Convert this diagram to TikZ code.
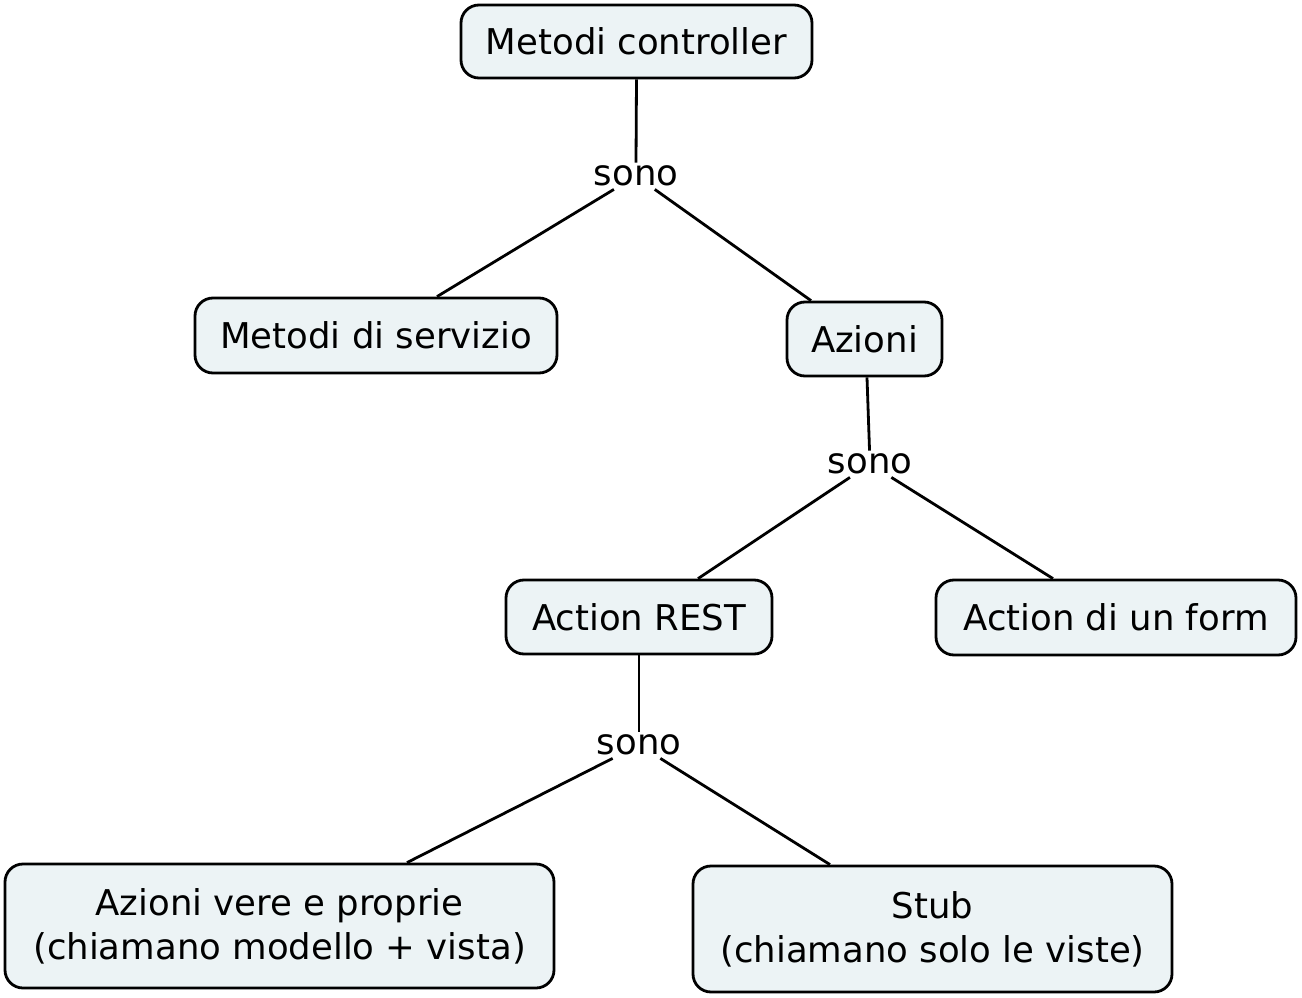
\documentclass[tikz,border=0pt]{standalone}
\usepackage{fontspec}
\setmainfont{DejaVu Sans}
\usetikzlibrary{calc}
\definecolor{boxfill}{HTML}{ECF3F5}
\tikzset{
  concept/.style={draw=black, line width=2.8pt, fill=boxfill, rounded corners=18pt,
    inner sep=0pt, align=center, font=\fontsize{35.5}{44}\selectfont},
  linklabel/.style={inner sep=3pt, font=\fontsize{35.5}{40}\selectfont},
  link/.style={line width=2.8pt, black}
}
\begin{document}
\begin{tikzpicture}[x=1pt,y=-1pt]
\useasboundingbox (0,0) rectangle (1302,998);
\node[concept, minimum width=351pt, minimum height=73pt] (mc) at (636.5,41.5) {Metodi controller};
\node[linklabel] (s1) at (636,176) {sono};
\node[concept, minimum width=362pt, minimum height=75pt] (ms) at (376,335.5) {Metodi di servizio};
\node[concept, minimum width=155pt, minimum height=74pt] (az) at (864.5,339) {Azioni};
\node[linklabel] (s2) at (870,464) {sono};
\node[concept, minimum width=266pt, minimum height=74pt] (ar) at (639,617) {Action REST};
\node[concept, minimum width=360pt, minimum height=75pt] (af) at (1116,617.5) {Action di un form};
\node[linklabel] (s3) at (639,745) {sono};
\node[concept, minimum width=549pt, minimum height=124pt] (av) at (279.5,926) {Azioni vere e proprie\\(chiamano modello + vista)};
\node[concept, minimum width=479pt, minimum height=126pt] (st) at (932.5,929) {Stub\\ (chiamano solo le viste)};

\coordinate (msT) at ($(ms.north)+(61,0)$);
\coordinate (azT) at ($(az.north)+(-53.5,0)$);
\coordinate (azB) at ($(az.south)+(2.5,0)$);
\coordinate (arT) at ($(ar.north)+(59,0)$);
\coordinate (afT) at ($(af.north)+(-63,0)$);
\coordinate (avT) at ($(av.north)+(127.5,0)$);
\coordinate (stT) at ($(st.north)+(-102.5,0)$);

\draw[link] (mc.south) -- (s1.north);
\draw[link] (s1) -- (msT);
\draw[link] (s1) -- (azT);
\draw[link] (azB) -- (s2);
\draw[link] (s2) -- (arT);
\draw[link] (s2) -- (afT);
\draw[link] (ar.south) -- (s3.north);
\draw[link] (s3) -- (avT);
\draw[link] (s3) -- (stT);
\end{tikzpicture}
\end{document}
